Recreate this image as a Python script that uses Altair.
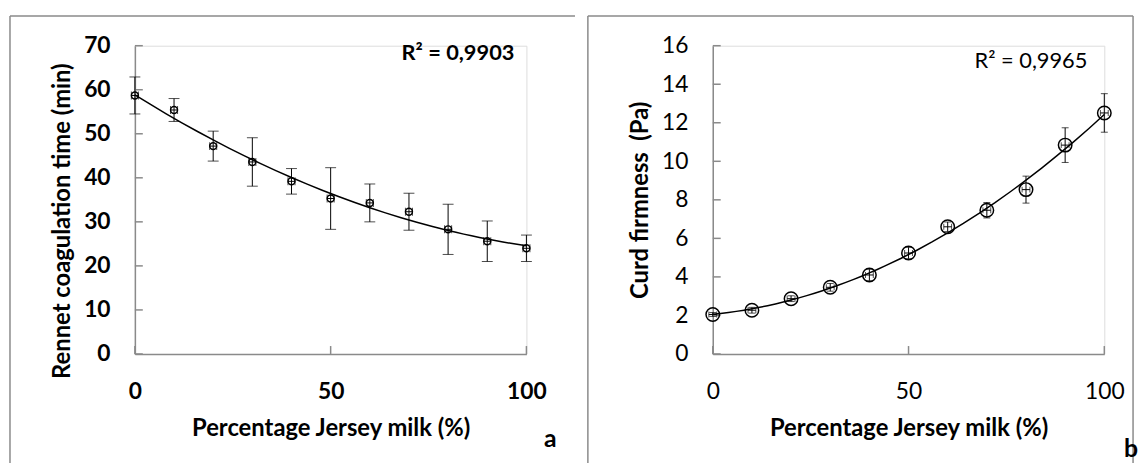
import altair as alt
import pandas as pd

# ---------------- data ----------------
pct = [0, 10, 20, 30, 40, 50, 60, 70, 80, 90, 100]

# panel a: rennet coagulation time (min)
rct = [58.7, 55.4, 47.2, 43.6, 39.2, 35.3, 34.3, 32.3, 28.3, 25.6, 24.0]
rct_sd = [4.2, 2.6, 3.4, 5.5, 2.9, 7.0, 4.3, 4.2, 5.7, 4.6, 3.0]
pct_err_a = [0.9, 0.9, 0.9, 0.9, 0.9, 0.9, 0.9, 0.9, 0.9, 0.9, 0.9]

# panel b: curd firmness (Pa)
firm = [2.05, 2.27, 2.87, 3.46, 4.10, 5.24, 6.60, 7.46, 8.53, 10.84, 12.51]
firm_sd = [0.10, 0.15, 0.15, 0.20, 0.30, 0.30, 0.25, 0.40, 0.70, 0.90, 1.00]
pct_err_b = [1.0, 1.0, 1.0, 1.0, 1.0, 1.0, 1.0, 1.0, 1.0, 1.0, 1.0]

x_ticks = [0, 50, 100]
y_ticks_a = [0, 10, 20, 30, 40, 50, 60, 70]
y_ticks_b = [0, 2, 4, 6, 8, 10, 12, 14, 16]

x_title = "Percentage Jersey milk (%)"

# ---------------- styling ----------------
W, H = 395, 311
FONT = "Lato"
GRAY = "#8a8a8a"
ONE = alt.Data(values=[{}])


def panel(vals, sds, xerr, ydom, yticks, label_weight, msize, mstroke,
          cap_v, cap_h, r2_text, r2_weight, r2_xy, y_title, y_title_xy,
          letter, letter_xy, frame_right):
    df = pd.DataFrame({"pct": pct, "val": vals, "sd": sds, "xe": xerr})
    xs = alt.Scale(domain=[0, 100], nice=False, zero=False)
    ys = alt.Scale(domain=ydom, nice=False, zero=False)
    xaxis = alt.Axis(values=x_ticks, title=None, grid=False, ticks=False, tickSize=0,
                     domainColor=GRAY, domainWidth=1.5, labelFont=FONT, labelFontSize=23,
                     labelFontWeight=label_weight, labelColor="black", labelPadding=27,
                     labelFlush=False, labelOverlap=False)
    yaxis = alt.Axis(values=yticks, title=None, grid=False, ticks=False, tickSize=0,
                     domainColor=GRAY, domainWidth=1.5, labelFont=FONT, labelFontSize=23,
                     labelFontWeight=label_weight, labelColor="black", labelPadding=25,
                     labelOverlap=False)

    def X(f):
        return alt.X(f, type="quantitative", scale=xs, axis=xaxis)

    def Y(f):
        return alt.Y(f, type="quantitative", scale=ys, axis=yaxis)

    base = alt.Chart(df).transform_calculate(
        lo="datum.val - datum.sd", hi="datum.val + datum.sd",
        xlo="datum.pct - datum.xe", xhi="datum.pct + datum.xe")

    stems_v = base.mark_rule(color="black", strokeWidth=1).encode(x=X("pct"), y=Y("lo"), y2="hi:Q")
    cap_hi = base.mark_tick(orient="horizontal", color="black", size=cap_v, thickness=1).encode(x=X("pct"), y=Y("hi"))
    cap_lo = base.mark_tick(orient="horizontal", color="black", size=cap_v, thickness=1).encode(x=X("pct"), y=Y("lo"))
    stems_h = base.mark_rule(color="black", strokeWidth=1).encode(x=X("xlo"), x2="xhi:Q", y=Y("val"))
    cap_l = base.mark_tick(orient="vertical", color="black", size=cap_h, thickness=1).encode(x=X("xlo"), y=Y("val"))
    cap_r = base.mark_tick(orient="vertical", color="black", size=cap_h, thickness=1).encode(x=X("xhi"), y=Y("val"))

    trend = alt.Chart(df).transform_regression(
        "pct", "val", method="poly", order=2
    ).mark_line(color="black", strokeWidth=1.5).encode(x=X("pct"), y=Y("val"))

    pts = alt.Chart(df).mark_point(shape="circle", filled=False, color="black",
                                   size=msize, strokeWidth=mstroke, opacity=1).encode(x=X("pct"), y=Y("val"))

    xt = alt.Chart(pd.DataFrame({"t": x_ticks})).mark_rule(color=GRAY, strokeWidth=1.5).encode(
        x=X("t"), y=alt.value(H), y2=alt.value(H - 8))
    yt = alt.Chart(pd.DataFrame({"t": yticks})).mark_rule(color=GRAY, strokeWidth=1.5).encode(
        y=Y("t"), x=alt.value(0), x2=alt.value(8))

    fl = alt.Chart(ONE).mark_rule(color=GRAY, strokeWidth=1.5).encode(
        x=alt.value(-126), y=alt.value(-30), y2=alt.value(421))
    ft = alt.Chart(ONE).mark_rule(color=GRAY, strokeWidth=1.5).encode(
        x=alt.value(-126), x2=alt.value(frame_right), y=alt.value(-30))
    frame = [fl, ft]
    if frame_right < 430:
        frame.append(alt.Chart(ONE).mark_rule(color=GRAY, strokeWidth=1.5).encode(
            x=alt.value(frame_right), y=alt.value(-30), y2=alt.value(421)))

    r2 = alt.Chart(ONE).mark_text(text=r2_text, font=FONT, fontSize=22, fontWeight=r2_weight,
                                  color="black", align="center", baseline="middle").encode(
        x=alt.value(r2_xy[0]), y=alt.value(r2_xy[1]))
    yt_txt = alt.Chart(ONE).mark_text(text=y_title, font=FONT, fontSize=24, fontWeight="bold",
                                      color="black", align="center", baseline="middle", angle=270).encode(
        x=alt.value(y_title_xy[0]), y=alt.value(y_title_xy[1]))
    xt_txt = alt.Chart(ONE).mark_text(text=x_title, font=FONT, fontSize=24, fontWeight="bold",
                                      color="black", align="center", baseline="middle").encode(
        x=alt.value(198), y=alt.value(387))
    let = alt.Chart(ONE).mark_text(text=letter, font=FONT, fontSize=25, fontWeight="bold",
                                   color="black", align="center", baseline="middle").encode(
        x=alt.value(letter_xy[0]), y=alt.value(letter_xy[1]))

    return alt.layer(*frame, xt, yt, stems_v, cap_hi, cap_lo, stems_h, cap_l, cap_r,
                     trend, pts, r2, yt_txt, xt_txt, let).properties(width=W, height=H)


left = panel(rct, rct_sd, pct_err_a, [0, 70], y_ticks_a, "bold", 49, 1.5,
             11, 8, "R² = 0,9903", "bold", (326, 7),
             "Rennet coagulation time (min)", (-72, 177), "a", (419, 397), 444)
right = panel(firm, firm_sd, pct_err_b, [0, 16], y_ticks_b, "normal", 185, 1.5,
              7, 6, "R² = 0,9965", "normal", (321, 15),
              "Curd firmness\u00a0 (Pa)", (-72, 156), "b", (422, 407), 424)

chart = alt.hconcat(left, right, spacing=9).properties(
    padding={"left": 0, "top": 4, "right": 0, "bottom": 0}
).configure_view(stroke=None).configure(background="white")

chart.save("out.html", embed_options={"renderer": "svg", "actions": False})
